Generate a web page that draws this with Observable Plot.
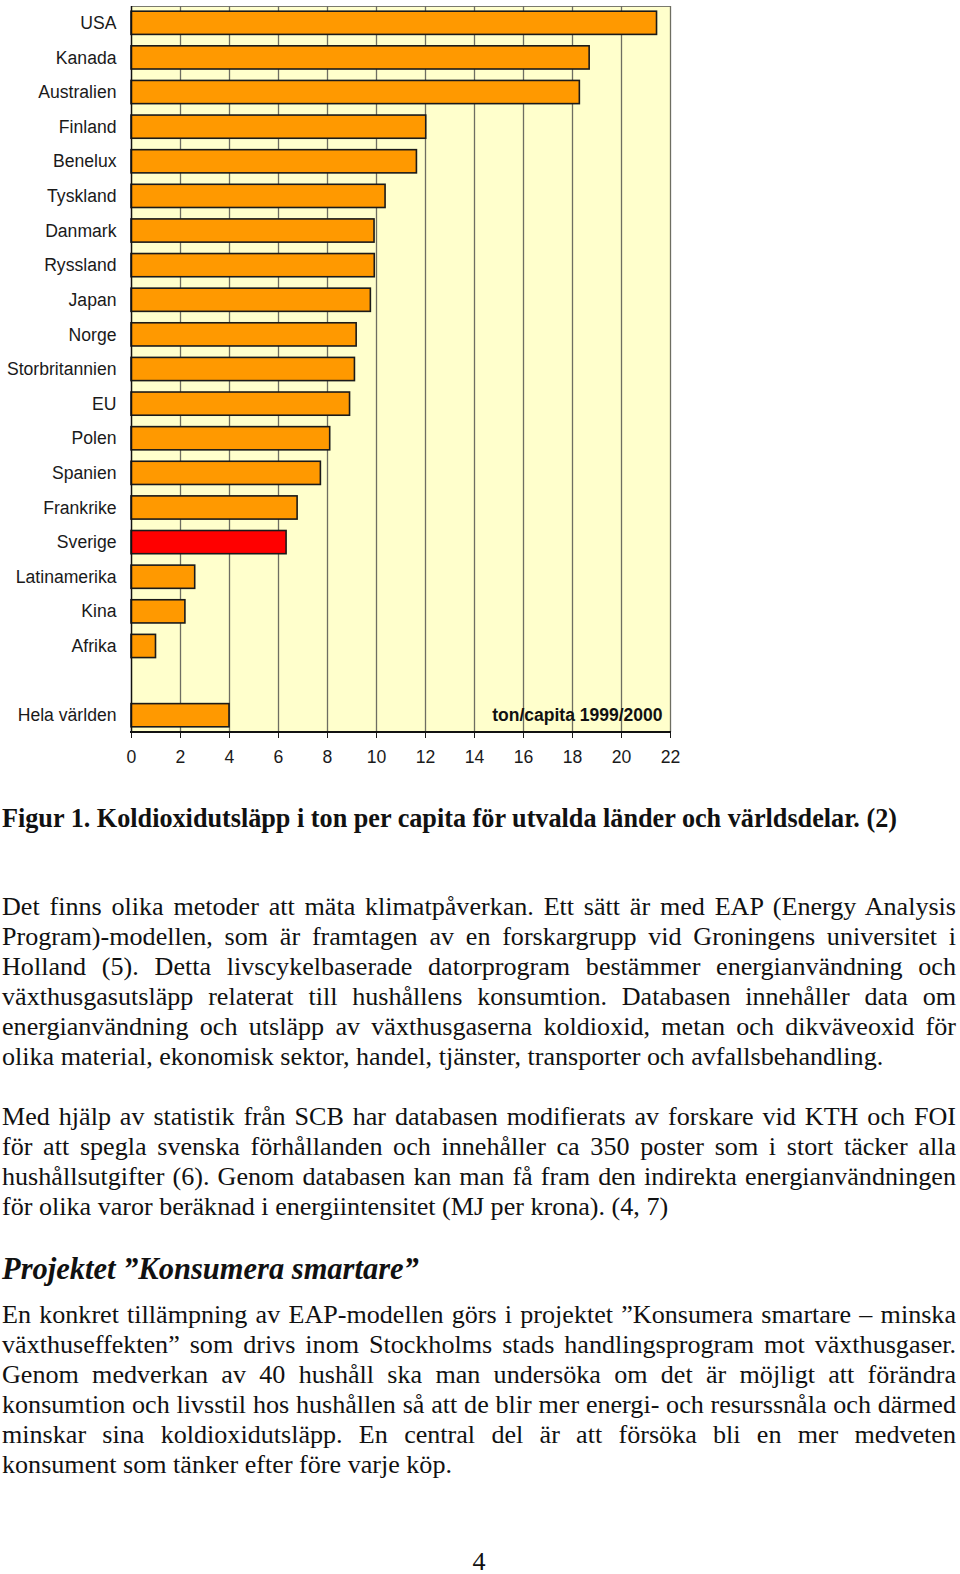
<!DOCTYPE html>
<html>
<head>
<meta charset="utf-8">
<script src="https://cdn.jsdelivr.net/npm/d3@7"></script>
<script src="https://cdn.jsdelivr.net/npm/@observablehq/plot@0.6"></script>
<style>
  html, body { margin: 0; padding: 0; background: #fff; }
  body { position: relative; width: 960px; height: 1574px; overflow: hidden; }
  #chart { position: absolute; left: 0; top: 0; }
  .serif { font-family: "Liberation Serif", "Times New Roman", serif; color: #111; }
  .block { position: absolute; left: 2px; width: 954px; font-size: 26.1px; line-height: 30.1px; }
  .line { white-space: nowrap; text-align: justify; text-align-last: justify; }
  .line.last { text-align-last: left; }
  #caption { position: absolute; left: 2px; top: 802px; font-size: 28px; line-height: 32px; font-weight: bold; white-space: nowrap; transform-origin: 0 0; display: inline-block; }
  #heading { position: absolute; left: 2px; top: 1252px; font-size: 30.5px; line-height: 35px; font-weight: bold; font-style: italic; white-space: nowrap; }
  #pageno { position: absolute; left: 0; width: 958px; top: 1551px; font-size: 26.1px; line-height: 22px; text-align: center; }
</style>
</head>
<body>
<div id="chart"></div>
<div id="caption" class="serif">Figur 1. Koldioxidutsläpp i ton per capita för utvalda länder och världsdelar. (2)</div>
<div id="p1" class="serif block" style="top:892px"></div>
<div id="p2" class="serif block" style="top:1102px"></div>
<div id="heading" class="serif">Projektet ”Konsumera smartare”</div>
<div id="p3" class="serif block" style="top:1300px"></div>
<div id="pageno" class="serif">4</div>
<script>
// ---- chart data ----
const countries = ["USA", "Kanada", "Australien", "Finland", "Benelux", "Tyskland", "Danmark", "Ryssland", "Japan", "Norge", "Storbritannien", "EU", "Polen", "Spanien", "Frankrike", "Sverige", "Latinamerika", "Kina", "Afrika", "Hela världen"];
const values = [21.45, 18.7, 18.3, 12.03, 11.65, 10.37, 9.92, 9.93, 9.77, 9.19, 9.12, 8.92, 8.11, 7.73, 6.78, 6.33, 2.6, 2.2, 1.0, 4.0];
const gapAfter = "Afrika";          // an empty row separates the world total
const highlighted = "Sverige";
const unitNote = "ton/capita 1999/2000";
const xTicks = [0, 2, 4, 6, 8, 10, 12, 14, 16, 18, 20, 22];

// ---- page text ----
const para1 = [
  "Det finns olika metoder att mäta klimatpåverkan. Ett sätt är med EAP (Energy Analysis",
  "Program)-modellen, som är framtagen av en forskargrupp vid Groningens universitet i",
  "Holland (5). Detta livscykelbaserade datorprogram bestämmer energianvändning och",
  "växthusgasutsläpp relaterat till hushållens konsumtion. Databasen innehåller data om",
  "energianvändning och utsläpp av växthusgaserna koldioxid, metan och dikväveoxid för",
  "olika material, ekonomisk sektor, handel, tjänster, transporter och avfallsbehandling."
];
const para2 = [
  "Med hjälp av statistik från SCB har databasen modifierats av forskare vid KTH och FOI",
  "för att spegla svenska förhållanden och innehåller ca 350 poster som i stort täcker alla",
  "hushållsutgifter (6). Genom databasen kan man få fram den indirekta energianvändningen",
  "för olika varor beräknad i energiintensitet (MJ per krona). (4, 7)"
];
const para3 = [
  "En konkret tillämpning av EAP-modellen görs i projektet ”Konsumera smartare – minska",
  "växthuseffekten” som drivs inom Stockholms stads handlingsprogram mot växthusgaser.",
  "Genom medverkan av 40 hushåll ska man undersöka om det är möjligt att förändra",
  "konsumtion och livsstil hos hushållen så att de blir mer energi- och resurssnåla och därmed",
  "minskar sina koldioxidutsläpp. En central del är att försöka bli en mer medveten",
  "konsument som tänker efter före varje köp."
];

const data = countries.map((c, i) => ({country: c, value: values[i]}));
const gapIdx = countries.indexOf(gapAfter) + 1;
const yDomain = [...countries.slice(0, gapIdx), " ", ...countries.slice(gapIdx)];
const xMax = xTicks[xTicks.length - 1];

const bottomAxisLine = (index, scales, vals, dims) => {
  const y = dims.height - dims.marginBottom;
  return d3.create("svg:line")
    .attr("x1", dims.marginLeft - 1).attr("x2", dims.width - dims.marginRight + 1)
    .attr("y1", y).attr("y2", y)
    .attr("stroke", "#111").attr("stroke-width", 2).node();
};

const chart = Plot.plot({
  width: 960,
  height: 780,
  marginTop: 6,
  marginBottom: 48,
  marginLeft: 131,
  marginRight: 290,
  style: {fontFamily: "'Liberation Sans', Arial, sans-serif", fontSize: "17.6px", color: "#1a1a1a", background: "transparent"},
  x: {domain: [0, xMax], ticks: xTicks.length - 1, tickSize: 6, tickPadding: 12, label: null, tickFormat: d => String(d)},
  y: {domain: yDomain, round: false, paddingInner: 0.33, paddingOuter: 0.15, tickSize: 0, tickPadding: 15, label: null, tickFormat: d => d.trim()},
  marks: [
    Plot.frame({fill: "#FFFFCC", stroke: "#7a7a6e"}),
    Plot.ruleX(xTicks.filter(t => t > 0), {stroke: "#6e6e62", strokeWidth: 1.3}),
    Plot.barX(data, {
      x: "value", y: "country",
      fill: d => d.country === highlighted ? "#FF0000" : "#FF9900",
      stroke: "#1a1a1a", strokeWidth: 1.6
    }),
    Plot.ruleX([0], {stroke: "#111", strokeWidth: 1.5}),
    bottomAxisLine,
    Plot.text([unitNote], {
      x: () => xMax, y: () => countries[countries.length - 1], text: d => d,
      textAnchor: "end", dx: -8, fontWeight: "bold", fontSize: 17.5, fill: "#111"
    })
  ]
});
document.getElementById("chart").appendChild(chart);

function fill(id, lines) {
  const el = document.getElementById(id);
  lines.forEach((t, i) => {
    const d = document.createElement("div");
    d.className = "line" + (i === lines.length - 1 ? " last" : "");
    d.textContent = t;
    el.appendChild(d);
  });
}
fill("p1", para1);
fill("p2", para2);
fill("p3", para3);

// caption: condensed bold to match the scanned width
const cap = document.getElementById("caption");
const w = cap.getBoundingClientRect().width;
cap.style.transform = `scaleX(${895 / w})`;
</script>
</body>
</html>
